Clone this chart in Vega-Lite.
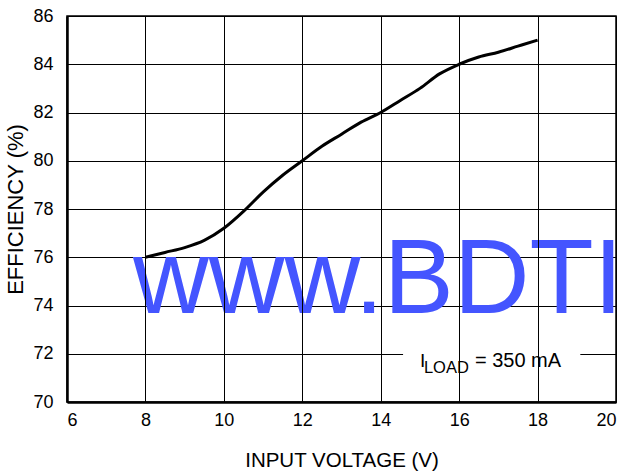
{
  "$schema": "https://vega.github.io/schema/vega-lite/v6.json",
  "width": 549,
  "height": 386,
  "autosize": {"type": "none"},
  "padding": {"left": 67, "top": 16, "right": 17, "bottom": 72},
  "background": "white",
  "config": {
    "view": {"stroke": "black", "strokeWidth": 1.5},
    "font": "Liberation Sans",
    "axis": {
      "labelFont": "Liberation Sans",
      "titleFont": "Liberation Sans",
      "labelFontSize": 18,
      "labelColor": "black",
      "titleColor": "black",
      "titleFontWeight": "normal",
      "gridColor": "black",
      "gridOpacity": 1,
      "gridWidth": 1,
      "domainColor": "black",
      "domainWidth": 2.5,
      "ticks": false
    }
  },
  "layer": [
    {
      "data": {"values": [
        {"v": 8, "e": 76.0}, {"v": 8.5, "e": 76.2}, {"v": 9, "e": 76.4}, {"v": 9.5, "e": 76.7},
        {"v": 10, "e": 77.2}, {"v": 10.5, "e": 77.9}, {"v": 11, "e": 78.7}, {"v": 11.5, "e": 79.4},
        {"v": 12, "e": 80.0}, {"v": 12.5, "e": 80.6}, {"v": 13, "e": 81.1}, {"v": 13.5, "e": 81.6},
        {"v": 14, "e": 82.0}, {"v": 14.5, "e": 82.5}, {"v": 15, "e": 83.0}, {"v": 15.5, "e": 83.6},
        {"v": 16, "e": 84.0}, {"v": 16.5, "e": 84.3}, {"v": 17, "e": 84.5}, {"v": 17.5, "e": 84.75},
        {"v": 18, "e": 85.0}
      ]},
      "mark": {"type": "line", "color": "black", "strokeWidth": 3, "interpolate": "monotone"},
      "encoding": {
        "x": {"field": "v", "type": "quantitative",
              "scale": {"domain": [6, 20], "nice": false},
              "axis": {"title": "INPUT VOLTAGE (V)", "titleFontSize": 20.5, "values": [6, 8, 10, 12, 14, 16, 18, 20],
                       "labelPadding": 9, "titlePadding": 21, "zindex": 1}},
        "y": {"field": "e", "type": "quantitative",
              "scale": {"domain": [70, 86], "nice": false, "zero": false},
              "axis": {"title": "EFFICIENCY (%)", "titleFontSize": 22, "values": [70, 72, 74, 76, 78, 80, 82, 84, 86],
                       "labelPadding": 14, "titlePadding": 5, "zindex": 0}}
      }
    },
    {
      "data": {"values": [{"x1": 14.57, "x2": 19.09, "y1": 71.8, "y2": 72.2}]},
      "mark": {"type": "rect", "color": "white", "opacity": 1},
      "encoding": {
        "x": {"field": "x1", "type": "quantitative"},
        "x2": {"field": "x2"},
        "y": {"field": "y1", "type": "quantitative"},
        "y2": {"field": "y2"}
      }
    },
    {
      "data": {"values": [{"x": 15.0, "y": 71.45}]},
      "layer": [
        {"mark": {"type": "text", "text": "I", "fontSize": 19, "align": "left", "baseline": "alphabetic", "color": "black"}},
        {"mark": {"type": "text", "text": "LOAD", "fontSize": 16.5, "align": "left", "baseline": "alphabetic", "dx": 4, "dy": 6, "color": "black"}},
        {"mark": {"type": "text", "text": "= 350 mA", "fontSize": 20, "align": "left", "baseline": "alphabetic", "dx": 55, "color": "black"}}
      ],
      "encoding": {
        "x": {"field": "x", "type": "quantitative"},
        "y": {"field": "y", "type": "quantitative"}
      }
    },
    {
      "data": {"values": [{"x": 7.68, "y": 73.7, "t": "www.BDTI"}]},
      "mark": {"type": "text", "font": "Liberation Sans", "fontSize": 105, "align": "left", "baseline": "alphabetic", "color": "#4455FF", "opacity": 1},
      "encoding": {
        "x": {"field": "x", "type": "quantitative"},
        "y": {"field": "y", "type": "quantitative"},
        "text": {"field": "t"}
      }
    }
  ]
}
